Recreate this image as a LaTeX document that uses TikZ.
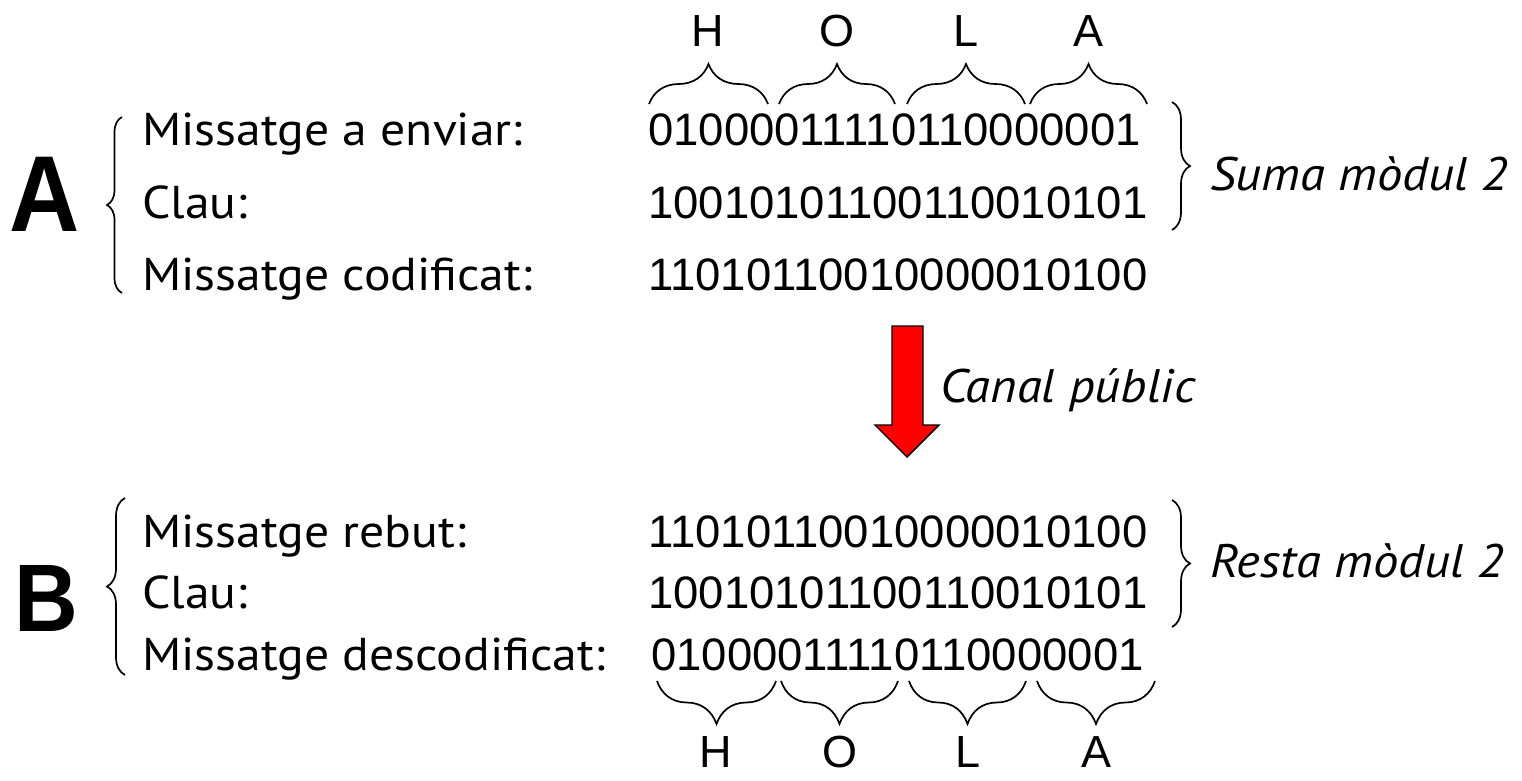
\documentclass[tikz,border=0pt]{standalone}
\usepackage{fontspec}
\setmainfont[FakeStretch=1.08]{PT Sans}
\newfontfamily\arialfont{Liberation Sans}
\usetikzlibrary{decorations.pathreplacing}

\begin{document}
\begin{tikzpicture}[x=1pt,y=-1pt,
  lbl/.style={anchor=base west, inner sep=0pt, font=\fontsize{46}{50}\selectfont},
  bits/.style={anchor=base west, inner sep=0pt, font=\arialfont\fontsize{45.5}{50}\selectfont},
  letter/.style={anchor=center, inner sep=0pt, font=\arialfont\fontsize{45}{50}\selectfont},
  party/.style={anchor=center, inner sep=0pt, font=\arialfont\bfseries\fontsize{#1}{#1}\selectfont},
  note/.style={anchor=base west, inner sep=0pt, font=\itshape\fontsize{47}{50}\selectfont},
  bracket/.style={decorate, decoration={brace, amplitude=#1}, line width=1.7pt},
]
\useasboundingbox (0,0) rectangle (1522,780);

% ---- sender A ----
\node[party=108] (pA) at (45,194) {\scalebox{0.9}[1]{A}};
\node[lbl] (a1) at (142,145) {Missatge a enviar:};
\node[lbl] (a2) at (142,218) {Clau:};
\node[lbl] (a3) at (142,290) {Missatge codificat:};
\node[bits] (m1) at (648,145) {01000011110110000001};
\node[bits] (k1) at (648,218) {10010101100110010101};
\node[bits] (c1) at (648,290) {11010110010000010100};

% letters above the plain message
\coordinate (t0) at (649,104); \coordinate (t1) at (768,104);
\coordinate (t2) at (779,104); \coordinate (t3) at (895,104);
\coordinate (t4) at (907,104); \coordinate (t5) at (1025,104);
\coordinate (t6) at (1030,104); \coordinate (t7) at (1147,104);
\draw[bracket=40] (t0) -- (t1);
\draw[bracket=40] (t2) -- (t3);
\draw[bracket=40] (t4) -- (t5);
\draw[bracket=40] (t6) -- (t7);
\node[letter] (tH) at (708,31) {H};
\node[letter] (tO) at (837,31) {O};
\node[letter] (tL) at (966,31) {L};
\node[letter] (tA) at (1088,31) {A};

% left brace of A
\coordinate (la0) at (122,293); \coordinate (la1) at (122,117);
\draw[bracket=15] (la0) -- (la1);

% sum brace
\coordinate (sa0) at (1172,102); \coordinate (sa1) at (1172,230);
\draw[bracket=18] (sa0) -- (sa1);
\node[note] (suma) at (1210,190) {Suma mòdul 2};

% ---- public channel ----
\coordinate (p1) at (892,326); \coordinate (p2) at (923,326);
\coordinate (p3) at (923,425); \coordinate (p4) at (939,425);
\coordinate (p5) at (907,457); \coordinate (p6) at (875,425);
\coordinate (p7) at (892,425);
\draw[fill=red, line width=1.4pt, line join=miter] (p1) -- (p2) -- (p3) -- (p4) -- (p5) -- (p6) -- (p7) -- cycle;
\node[note] (canal) at (940,402) {Canal públic};

% ---- receiver B ----
\node[party=96] (pB) at (46,598) {\scalebox{0.92}[1]{B}};
\node[lbl] (b1) at (142,547) {Missatge rebut:};
\node[lbl] (b2) at (142,608) {Clau:};
\node[lbl] (b3) at (142,670) {Missatge descodificat:};
\node[bits] (r1) at (648,547) {11010110010000010100};
\node[bits] (k2) at (648,608) {10010101100110010101};
\node[bits] (d1) at (651,670) {01000011110110000001};

\coordinate (lb0) at (125,675); \coordinate (lb1) at (125,498);
\draw[bracket=18] (lb0) -- (lb1);

\coordinate (sb0) at (1172,500); \coordinate (sb1) at (1172,627);
\draw[bracket=18] (sb0) -- (sb1);
\node[note] (resta) at (1210,577) {Resta mòdul 2};

% letters below the decoded message
\coordinate (u0) at (776,681); \coordinate (u1) at (657,681);
\coordinate (u2) at (898,681); \coordinate (u3) at (781,681);
\coordinate (u4) at (1026,681); \coordinate (u5) at (909,681);
\coordinate (u6) at (1155,681); \coordinate (u7) at (1037,681);
\draw[bracket=43] (u0) -- (u1);
\draw[bracket=43] (u2) -- (u3);
\draw[bracket=43] (u4) -- (u5);
\draw[bracket=43] (u6) -- (u7);
\node[letter] (bH) at (716,752) {H};
\node[letter] (bO) at (840,752) {O};
\node[letter] (bL) at (968,752) {L};
\node[letter] (bA) at (1096,752) {A};
\end{tikzpicture}
\end{document}
